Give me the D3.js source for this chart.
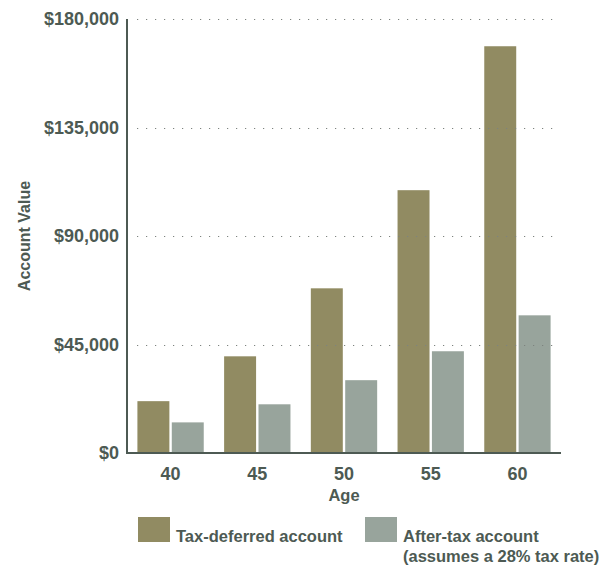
<!DOCTYPE html>
<html>
<head>
<meta charset="utf-8">
<script src="https://cdn.jsdelivr.net/npm/d3@7"></script>
<style>
  html, body { margin: 0; padding: 0; background: #ffffff; }
  svg { display: block; }
  text { font-family: "Liberation Sans", Arial, sans-serif; font-weight: bold; fill: #4d5a53; }
</style>
</head>
<body>
<svg id="chart" width="607" height="572"></svg>
<script>
const ages = ["40", "45", "50", "55", "60"];
const seriesNames = ["Tax-deferred account", "After-tax account"];
const taxDeferred = [21500, 40100, 68300, 109000, 168700];
const afterTax = [12700, 20200, 30200, 42200, 57100];
const yTicks = [0, 45000, 90000, 135000, 180000];
const legendLabels = [["Tax-deferred account"], ["After-tax account", "(assumes a 28% tax rate)"]];
const colors = ["#918b62", "#98a49c"];

(function () {
const svg = d3.select("#chart");
const pLeft = 127, pRight = 561, pTop = 19, pBottom = 453;
const textColor = "#4d5a53";

const y = d3.scaleLinear().domain([0, 180000]).range([pBottom, pTop]);
const x0 = d3.scaleBand().domain(ages).range([pLeft, pRight]).paddingInner(0.235).paddingOuter(0.12);
const x1 = d3.scaleBand().domain(seriesNames).range([0, x0.bandwidth()]).paddingInner(0.07);

const rows = ages.map((a, i) => ({ age: a, values: [taxDeferred[i], afterTax[i]] }));

// bars
const g = svg.append("g");
g.selectAll("g.grp").data(rows).join("g")
  .attr("class", "grp")
  .attr("transform", d => `translate(${x0(d.age)},0)`)
  .selectAll("rect").data(d => d.values.map((v, k) => ({ k, v })))
  .join("rect")
  .attr("x", d => x1(seriesNames[d.k]))
  .attr("width", x1.bandwidth())
  .attr("y", d => y(d.v))
  .attr("height", d => y(0) - y(d.v))
  .attr("fill", d => colors[d.k]);

// gridlines (dotted, on top of bars)
svg.append("g").selectAll("line").data(yTicks.filter(t => t > 0)).join("line")
  .attr("x1", pLeft + 10).attr("x2", pRight - 2)
  .attr("y1", d => Math.round(y(d)) + 0.5).attr("y2", d => Math.round(y(d)) + 0.5)
  .attr("stroke", "#7d837f").attr("stroke-width", 1.2)
  .attr("stroke-dasharray", "1.2,7.8");

// y axis
const yAxis = d3.axisLeft(y).tickValues(yTicks).tickSize(0).tickPadding(8)
  .tickFormat(d => "$" + d3.format(",")(d));
const ya = svg.append("g").attr("transform", `translate(${pLeft},0)`).call(yAxis);
ya.select(".domain").remove();
ya.selectAll("text").attr("font-size", 18).attr("fill", textColor)
  .style("font-family", "'Liberation Sans', Arial, sans-serif").style("font-weight", "bold");
svg.append("line").attr("x1", pLeft).attr("x2", pLeft).attr("y1", pTop).attr("y2", pBottom + 1)
  .attr("stroke", "#4d5a53").attr("stroke-width", 2);

// x axis
const xAxis = d3.axisBottom(x0).tickSize(0).tickPadding(14);
const xa = svg.append("g").attr("transform", `translate(0,${pBottom})`).call(xAxis);
xa.select(".domain").remove();
xa.selectAll("text").attr("font-size", 18).attr("fill", textColor)
  .style("font-family", "'Liberation Sans', Arial, sans-serif").style("font-weight", "bold");
svg.append("line").attr("x1", pLeft - 1).attr("x2", pRight).attr("y1", pBottom).attr("y2", pBottom)
  .attr("stroke", "#4d5a53").attr("stroke-width", 2.2);

// axis titles
svg.append("text").attr("x", (pLeft + pRight) / 2).attr("y", 501)
  .attr("text-anchor", "middle").attr("font-size", 16.5).text("Age");
svg.append("text").attr("transform", `translate(30,${(pTop + pBottom) / 2}) rotate(-90)`)
  .attr("text-anchor", "middle").attr("font-size", 16).text("Account Value");

// legend
const legendX = [138, 365];
legendLabels.forEach((lines, i) => {
  svg.append("rect").attr("x", legendX[i]).attr("y", 517).attr("width", 32).attr("height", 25)
    .attr("fill", colors[i]);
  const t = svg.append("text").attr("x", legendX[i] + 38).attr("y", 541.5).attr("font-size", 16.5);
  lines.forEach((ln, j) => {
    t.append("tspan").attr("x", legendX[i] + 38).attr("dy", j === 0 ? 0 : 20).text(ln);
  });
});
})();
</script>
</body>
</html>
